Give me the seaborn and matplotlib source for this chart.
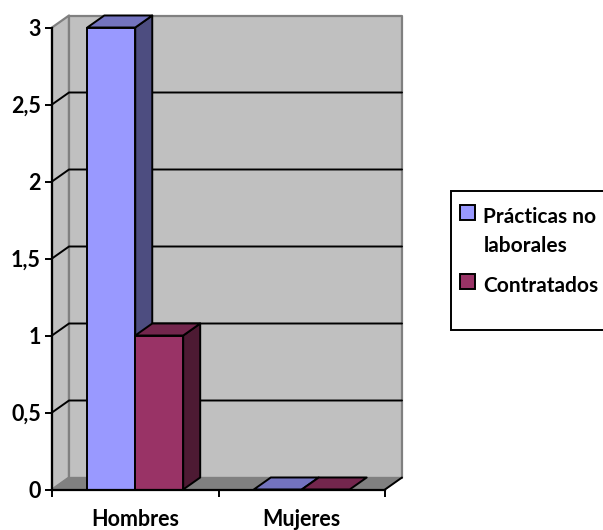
import pandas as pd
import matplotlib
matplotlib.use("Agg")
import matplotlib.pyplot as plt
import seaborn as sns
from matplotlib.patches import Polygon, Rectangle

# ==========================================
# 1. Data
# ==========================================
grupos = ['Hombres', 'Mujeres']
practicas = [3, 0]
contratados = [1, 0]
series = ['Prácticas no\nlaborales', 'Contratados']
y_ticks = [0, 0.5, 1, 1.5, 2, 2.5, 3]
y_labels = ['0', '0,5', '1', '1,5', '2', '2,5', '3']

# ==========================================
# 2. Style
# ==========================================
W, H = 603, 530
COLORS = ['#9999FF', '#993366']
TOPS = ['#7373BF', '#73264D']
SIDES = ['#4D4D80', '#4D1A33']
WALL = '#C0C0C0'
FLOOR = '#808080'
LW = 1.4
FONT_SIZE = 15.5
LEGEND_SIZE = 15
# 3D offset of the back wall, in data units
DX = 17 / 166.5
DY = 12 / 154

sns.set_theme(style="white")
plt.rcParams['font.family'] = ['Lato', 'DejaVu Sans']

df = pd.DataFrame({
    'grupo': grupos * 2,
    'valor': practicas + contratados,
    'serie': [series[0]] * 2 + [series[1]] * 2,
})


def face(ax, pts, color, edge, z, lw=LW):
    ax.add_patch(Polygon(pts, closed=True, facecolor=color, edgecolor=edge,
                         linewidth=lw, zorder=z, clip_on=False, joinstyle='round'))


def main():
    fig = plt.figure(figsize=(W / 100, H / 100), dpi=100)
    ax = fig.add_axes([52 / W, (H - 489.5) / H, 333 / W, 462 / H])
    ax.patch.set_alpha(0)

    sns.barplot(data=df, x='grupo', y='valor', hue='serie', palette=COLORS,
                width=0.576, gap=0, saturation=1, edgecolor='black', linewidth=LW,
                ax=ax, zorder=5)

    x0, x1 = -0.5, 1.5
    y1 = max(y_ticks)
    ax.set_xlim(x0, x1)
    ax.set_ylim(0, y1)

    # Walls and floor
    face(ax, [(x0, 0), (x0 + DX, DY), (x0 + DX, y1 + DY), (x0, y1)], WALL, FLOOR, 0.5, 1.6)
    face(ax, [(x0 + DX, DY), (x1 + DX, DY), (x1 + DX, y1 + DY), (x0 + DX, y1 + DY)], WALL, FLOOR, 0.6, 1.6)

    # Gridlines run across the side wall and the back wall
    for v in y_ticks[1:-1]:
        ax.plot([x0, x0 + DX, x1 + DX], [v, v + DY, v + DY], color='black', lw=LW,
                zorder=0.8, clip_on=False, solid_joinstyle='miter')

    face(ax, [(x0, 0), (x1, 0), (x1 + DX, DY), (x0 + DX, DY)], FLOOR, FLOOR, 0.9, 0.8)
    ax.plot([x1, x1 + DX], [0, DY], color='black', lw=LW, zorder=1, clip_on=False)

    # Side and top faces of each bar
    for i, cont in enumerate(ax.containers):
        for bar in cont:
            l, r = bar.get_x(), bar.get_x() + bar.get_width()
            h = bar.get_height()
            z = 3 + i
            if h > 0:
                face(ax, [(r, 0), (r + DX, DY), (r + DX, h + DY), (r, h)], SIDES[i], 'black', z)
            face(ax, [(l, h), (r, h), (r + DX, h + DY), (l + DX, h + DY)], TOPS[i], 'black', z)

    # Axes
    sns.despine(ax=ax, top=True, right=True)
    for s in ['left', 'bottom']:
        ax.spines[s].set_color('black')
        ax.spines[s].set_linewidth(1.6)
        ax.spines[s].set_zorder(6)
    ax.set_xlabel('')
    ax.set_ylabel('')
    ax.set_yticks(y_ticks, y_labels)
    ax.set_xticks([0, 1], grupos)
    ax.set_xticks([x0, 0.5, x1], minor=True)
    ax.tick_params(axis='x', which='major', length=0, pad=14)
    ax.tick_params(axis='x', which='minor', length=5, width=LW, color='black', bottom=True)
    ax.tick_params(axis='y', length=5, width=LW, color='black', left=True, pad=3)
    for t in ax.get_xticklabels() + ax.get_yticklabels():
        t.set_fontsize(FONT_SIZE)
        t.set_fontweight('bold')
        t.set_color('black')

    # Legend
    fig.add_artist(Rectangle((450.5 / W, (H - 330) / H), 160 / W, 139.5 / H,
                             transform=fig.transFigure, facecolor='white',
                             edgecolor='black', linewidth=LW, zorder=-1))
    handles, labels = ax.get_legend_handles_labels()
    leg = ax.legend(handles, labels, loc='upper left',
                    bbox_to_anchor=(460 / W, (H - 207) / H),
                    bbox_transform=fig.transFigure, frameon=False,
                    handlelength=0.72, handleheight=0.72, handletextpad=0.4,
                    labelspacing=0.95, borderpad=0, borderaxespad=0,
                    prop={'weight': 'bold', 'size': LEGEND_SIZE})
    leg.set_zorder(10)
    for t in leg.get_texts():
        t.set_color('black')
        t.set_linespacing(1.55)
    # The square sits next to the first line of a wrapped label
    first, second = leg.legend_handles
    first.set_y(first.get_y() + 14)
    second.set_y(second.get_y() + 2)

    fig.savefig('out.png', dpi=100)
    plt.close(fig)


if __name__ == "__main__":
    main()
